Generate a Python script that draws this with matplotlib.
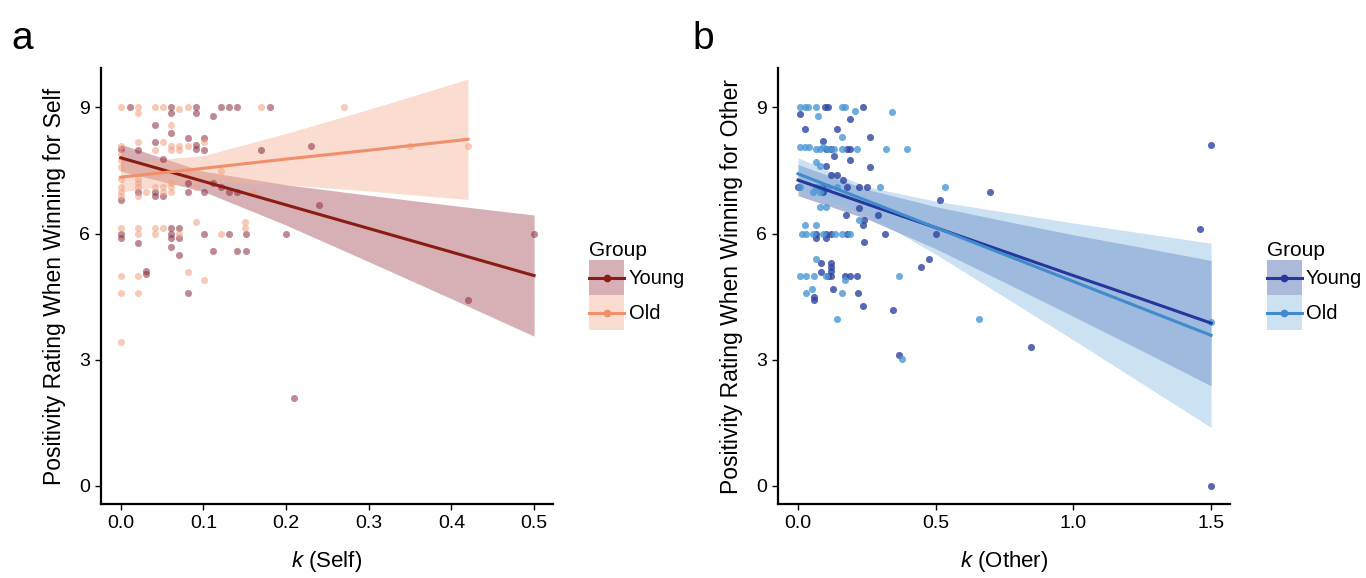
import numpy as np
import matplotlib
matplotlib.use("Agg")
import matplotlib.pyplot as plt
from matplotlib.patches import Rectangle
from matplotlib.lines import Line2D
from matplotlib.legend_handler import HandlerBase

plt.rcParams['font.family'] = ['Liberation Sans', 'DejaVu Sans']
plt.rcParams['mathtext.fontset'] = 'custom'
plt.rcParams['mathtext.it'] = 'Liberation Sans:italic'
plt.rcParams['mathtext.rm'] = 'Liberation Sans'

# ---- panel a : k (Self) ----
a_young_k = [0.011, 0.061, 0.091, 0.121, 0.131, 0.141, 0.18, 0.061, 0.091, 0.111, 0.041, 0.061,
             0.081, 0.101, 0.041, 0.091, 0.091, 0.021, 0.101, 0.17, 0.23, 0.051, 0.081, 0.111,
             0.121, 0.021, 0.041, 0.081, 0.101, 0.131, 0.141, 0.041, 0.051, 0.0, 0.24, 0.061,
             0.071, 0.0, 0.061, 0.101, 0.131, 0.151, 0.2, 0.5, 0.0, 0.061, 0.071, 0.021, 0.061,
             0.111, 0.141, 0.151, 0.071, 0.031, 0.031, 0.081, 0.21, 0.42, 0.0]
a_young_y = [9.0, 9.0, 9.0, 9.0, 9.0, 9.0, 9.0, 8.86, 8.86, 8.79, 8.59, 8.39,
             8.28, 8.28, 8.18, 8.1, 8.0, 7.98, 7.98, 7.98, 8.08, 7.78, 7.19, 7.19,
             7.11, 6.99, 6.99, 6.99, 6.99, 6.99, 6.99, 6.89, 6.89, 6.79, 6.67, 6.12,
             6.12, 6.0, 6.0, 6.0, 6.0, 6.0, 6.0, 6.0, 5.9, 5.9, 5.9, 5.78, 5.68,
             5.58, 5.58, 5.58, 5.48, 5.1, 5.03, 4.59, 2.1, 4.42, 8.0]
a_old_k = [0.0, 0.021, 0.041, 0.051, 0.071, 0.081, 0.17, 0.27, 0.021, 0.061, 0.021, 0.051,
           0.101, 0.0, 0.061, 0.071, 0.081, 0.041, 0.061, 0.071, 0.35, 0.42, 0.0, 0.0, 0.0,
           0.081, 0.121, 0.021, 0.0, 0.021, 0.061, 0.0, 0.021, 0.041, 0.051, 0.061, 0.091,
           0.0, 0.031, 0.051, 0.061, 0.16, 0.0, 0.021, 0.091, 0.15, 0.0, 0.021, 0.041, 0.051,
           0.15, 0.021, 0.041, 0.071, 0.121, 0.081, 0.0, 0.021, 0.101, 0.0, 0.021, 0.0]
a_old_y = [9.0, 9.0, 9.0, 9.0, 8.95, 9.0, 9.0, 9.0, 8.86, 8.59, 8.18, 8.18,
           8.18, 8.07, 8.07, 8.07, 8.07, 7.98, 7.98, 7.98, 8.08, 8.08, 7.88, 7.75, 7.58,
           7.49, 7.49, 7.3, 7.3, 7.19, 7.19, 7.11, 7.11, 7.11, 7.11, 7.11, 7.11,
           6.99, 6.99, 6.99, 6.99, 6.99, 6.89, 6.89, 6.28, 6.28, 6.12, 6.12, 6.12, 6.12,
           6.12, 6.0, 6.0, 6.0, 6.0, 5.08, 4.99, 4.99, 4.89, 4.59, 4.59, 3.42]

# regression fits with 95% bands
a_young_fit_k = [0.0, 0.1, 0.2, 0.3, 0.4, 0.5]
a_young_fit = [7.80, 7.24, 6.68, 6.12, 5.56, 5.00]
a_young_lo = [7.48, 7.00, 6.20, 5.33, 4.45, 3.56]
a_young_hi = [8.12, 7.48, 7.16, 6.91, 6.67, 6.44]
a_old_fit_k = [0.0, 0.1, 0.2, 0.3, 0.42]
a_old_fit = [7.34, 7.55, 7.77, 7.98, 8.24]
a_old_lo = [6.99, 7.25, 7.16, 7.01, 6.81]
a_old_hi = [7.69, 7.85, 8.38, 8.95, 9.67]

# ---- panel b : k (Other) ----
b_young_k = [0.098, 0.11, 0.237, 0.007, 0.188, 0.025, 0.14, 0.26, 0.09, 0.1, 0.12, 0.177,
             0.19, 0.13, 0.187, 0.1, 0.26, 0.12, 0.165, 0.14, 0.09, 0.177, 0.22, 0.25, 0.0,
             0.09, 0.516, 0.697, 0.22, 0.173, 0.29, 0.24, 0.237, 0.065, 0.1, 0.12, 0.177,
             0.316, 0.5, 0.065, 0.1, 0.24, 0.084, 0.118, 0.118, 0.084, 0.118, 0.447, 0.476,
             0.11, 0.12, 0.169, 0.19, 0.215, 0.128, 0.217, 0.058, 0.058, 0.237, 0.346,
             0.367, 0.845, 1.5, 1.46, 1.5]
b_young_y = [9.0, 9.0, 9.0, 8.83, 8.72, 8.49, 8.49, 8.29, 8.2, 8.0, 8.0, 8.0,
             8.0, 7.85, 7.75, 7.6, 7.58, 7.38, 7.28, 7.38, 7.1, 7.1, 7.1, 7.1, 7.1,
             6.98, 6.79, 6.99, 6.6, 6.43, 6.43, 6.31, 6.2, 6.0, 6.0, 6.0, 6.0,
             6.0, 6.0, 5.9, 5.9, 5.8, 5.29, 5.29, 5.2, 5.09, 5.1, 5.2, 5.39,
             4.99, 4.99, 4.99, 4.99, 4.99, 4.69, 4.59, 4.5, 4.42, 4.28, 4.18,
             3.11, 3.31, 8.11, 6.1, 0.0]
b_old_k = [0.007, 0.025, 0.035, 0.065, 0.159, 0.17, 0.207, 0.34, 0.073, 0.159, 0.007, 0.025,
           0.04, 0.065, 0.08, 0.09, 0.11, 0.13, 0.159, 0.215, 0.318, 0.397, 0.065, 0.08,
           0.007, 0.065, 0.08, 0.11, 0.14, 0.298, 0.534, 0.055, 0.08, 0.08, 0.1, 0.22,
           0.025, 0.065, 0.015, 0.03, 0.055, 0.09, 0.135, 0.159, 0.19, 0.065, 0.007, 0.03,
           0.058, 0.1, 0.367, 0.169, 0.05, 0.03, 0.159, 0.14, 0.379, 0.657, 1.5]
b_old_y = [9.0, 9.0, 9.0, 9.0, 9.0, 9.0, 8.92, 8.88, 8.8, 8.29, 8.05, 8.05,
           8.05, 8.0, 8.0, 8.05, 8.0, 8.0, 8.0, 8.0, 8.0, 8.0, 7.7, 7.6,
           7.1, 7.1, 7.1, 7.1, 7.1, 7.1, 7.1, 6.98, 6.98, 6.63, 6.63, 6.31,
           6.2, 6.2, 6.0, 6.0, 6.0, 6.0, 6.0, 6.0, 6.0, 5.39, 4.99, 4.99,
           4.99, 4.99, 4.99, 4.89, 4.69, 4.59, 4.59, 3.98, 3.01, 3.98, 3.9]

b_fit_k = [0.0, 0.25, 0.5, 0.75, 1.0, 1.25, 1.5]
b_young_fit = [7.27, 6.70, 6.14, 5.57, 5.00, 4.44, 3.87]
b_young_lo = [6.90, 6.35, 5.64, 4.84, 4.03, 3.21, 2.38]
b_young_hi = [7.64, 7.05, 6.64, 6.30, 5.97, 5.67, 5.36]
b_old_fit = [7.42, 6.78, 6.14, 5.50, 4.86, 4.22, 3.58]
b_old_lo = [7.04, 6.45, 5.51, 4.49, 3.47, 2.43, 1.39]
b_old_hi = [7.80, 7.11, 6.77, 6.51, 6.25, 6.01, 5.77]

y_ticks = [0, 3, 6, 9]
groups = ['Young', 'Old']


class BandKey(object):
    """legend key: shaded box with the fit line and a dot centred in it"""
    def __init__(self, band_color, band_alpha, line_color):
        self.band_color = band_color
        self.band_alpha = band_alpha
        self.line_color = line_color


class BandKeyHandler(HandlerBase):
    def create_artists(self, legend, orig, xdescent, ydescent, width, height, fontsize, trans):
        box = Rectangle((-xdescent, -ydescent), width, height, facecolor=orig.band_color,
                        alpha=orig.band_alpha, lw=0, transform=trans)
        yc = height / 2.0 - ydescent
        line = Line2D([-xdescent, width - xdescent], [yc, yc], color=orig.line_color,
                      lw=2.2, transform=trans)
        dot = Line2D([width / 2.0 - xdescent], [yc], color=orig.line_color, marker='o',
                     ms=4.5, lw=0, transform=trans)
        return [box, line, dot]


fig = plt.figure(figsize=(13.66, 5.78), dpi=100)
ax_a = fig.add_axes([0.0739, 0.128, 0.331, 0.754])
ax_b = fig.add_axes([0.5695, 0.128, 0.331, 0.754])


def draw_panel(ax, series, xlim, xticks, xlabel, ylabel, legend_x):
    handles = []
    for pk, py, fk, fit, lo, hi, pcol, lcol, bcol, balpha, palpha in series:
        ax.fill_between(fk, lo, hi, color=bcol, alpha=balpha, lw=0, zorder=1)
        ax.scatter(pk, py, s=26, color=pcol, alpha=palpha, lw=0, zorder=2)
        ax.plot(fk, fit, color=lcol, lw=2.2, zorder=3)
        handles.append(BandKey(bcol, balpha, lcol))
    ax.set_xlim(*xlim)
    ax.set_ylim(-0.43, 9.93)
    ax.set_xticks(xticks)
    ax.set_xticklabels(['%.1f' % t for t in xticks])
    ax.set_yticks(y_ticks)
    for s in ['top', 'right']:
        ax.spines[s].set_visible(False)
    for s in ['left', 'bottom']:
        ax.spines[s].set_linewidth(1.6)
    ax.tick_params(labelsize=14, length=4, width=1, colors='black', pad=4)
    ax.set_xlabel(xlabel, fontsize=16, labelpad=12)
    ax.set_ylabel(ylabel, fontsize=16.5, labelpad=9)
    fig.legend(handles, groups, title='Group', loc='upper left',
               bbox_to_anchor=(legend_x, 0.60), frameon=False,
               fontsize=14.5, title_fontsize=15, handlelength=1.75,
               handleheight=2.3, labelspacing=0.0, handletextpad=0.2,
               alignment='left', borderpad=0,
               handler_map={BandKey: BandKeyHandler()})


series_a = [
    (a_young_k, a_young_y, a_young_fit_k, a_young_fit, a_young_lo, a_young_hi,
     '#8c2a3c', '#8b1c14', '#a5505c', 0.45, 0.55),
    (a_old_k, a_old_y, a_old_fit_k, a_old_fit, a_old_lo, a_old_hi,
     '#f2a07e', '#f0906a', '#f6b398', 0.45, 0.55),
]
series_b = [
    (b_young_k, b_young_y, b_fit_k, b_young_fit, b_young_lo, b_young_hi,
     '#2e44a0', '#24379a', '#5b74b8', 0.5, 0.8),
    (b_old_k, b_old_y, b_fit_k, b_old_fit, b_old_lo, b_old_hi,
     '#4a98d6', '#3f8bcb', '#8fbde3', 0.45, 0.8),
]

draw_panel(ax_a, series_a, (-0.024, 0.523), [0.0, 0.1, 0.2, 0.3, 0.4, 0.5],
           r'$k$ (Self)', 'Positivity Rating When Winning for Self', 0.424)
draw_panel(ax_b, series_b, (-0.073, 1.569), [0.0, 0.5, 1.0, 1.5],
           r'$k$ (Other)', 'Positivity Rating When Winning for Other', 0.920)

fig.text(0.008, 0.915, 'a', fontsize=28)
fig.text(0.507, 0.915, 'b', fontsize=28)

fig.savefig('out.png', dpi=100)
